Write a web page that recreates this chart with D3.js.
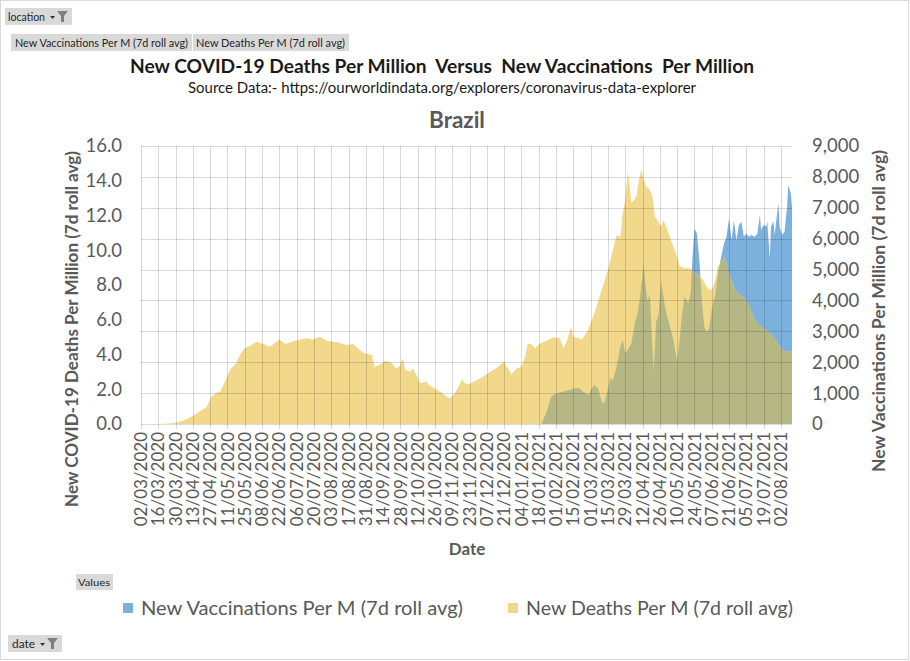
<!DOCTYPE html>
<html><head><meta charset="utf-8">
<script src="https://cdn.jsdelivr.net/npm/d3@7"></script>
<style>
html,body{margin:0;padding:0;background:#fff;}
svg{display:block;font-family:Lato,"Liberation Sans",sans-serif;}
text{white-space:pre;}
</style></head><body>
<svg id="chart" width="910" height="661"></svg>
<script>
// ---------------- DATA ----------------
const deathDates = ["2020-03-02","2020-03-17","2020-03-28","2020-04-05","2020-04-12","2020-04-19","2020-04-24","2020-04-28","2020-05-01","2020-05-05","2020-05-09","2020-05-13","2020-05-18","2020-05-21","2020-05-25","2020-05-29","2020-06-04","2020-06-08","2020-06-14","2020-06-18","2020-06-22","2020-06-27","2020-07-02","2020-07-07","2020-07-14","2020-07-19","2020-07-25","2020-07-30","2020-08-05","2020-08-10","2020-08-15","2020-08-21","2020-08-26","2020-08-30","2020-09-05","2020-09-07","2020-09-11","2020-09-16","2020-09-21","2020-09-24","2020-09-27","2020-09-30","2020-10-02","2020-10-06","2020-10-08","2020-10-11","2020-10-14","2020-10-19","2020-10-22","2020-10-26","2020-10-30","2020-11-03","2020-11-06","2020-11-08","2020-11-11","2020-11-14","2020-11-17","2020-11-19","2020-11-23","2020-11-29","2020-12-04","2020-12-08","2020-12-12","2020-12-16","2020-12-21","2020-12-24","2020-12-27","2020-12-31","2021-01-04","2021-01-07","2021-01-09","2021-01-12","2021-01-15","2021-01-19","2021-01-24","2021-01-30","2021-02-04","2021-02-07","2021-02-10","2021-02-13","2021-02-15","2021-02-20","2021-02-22","2021-02-27","2021-03-04","2021-03-10","2021-03-15","2021-03-19","2021-03-22","2021-03-25","2021-03-27","2021-03-29","2021-03-31","2021-04-01","2021-04-03","2021-04-05","2021-04-07","2021-04-09","2021-04-11","2021-04-13","2021-04-15","2021-04-18","2021-04-20","2021-04-22","2021-04-24","2021-04-27","2021-04-29","2021-05-01","2021-05-04","2021-05-07","2021-05-10","2021-05-12","2021-05-16","2021-05-20","2021-05-23","2021-05-27","2021-05-31","2021-06-04","2021-06-07","2021-06-10","2021-06-12","2021-06-15","2021-06-18","2021-06-20","2021-06-23","2021-06-26","2021-06-30","2021-07-04","2021-07-08","2021-07-12","2021-07-17","2021-07-23","2021-07-28","2021-08-03","2021-08-08","2021-08-11"];
const deathValues = [0,0,0.05,0.19,0.42,0.75,0.96,1.57,1.77,1.86,2.44,3.11,3.49,3.97,4.36,4.49,4.74,4.64,4.45,4.64,4.87,4.6,4.74,4.83,4.93,4.87,5.02,4.79,4.74,4.68,4.55,4.6,4.26,4.07,3.97,3.3,3.4,3.64,3.53,3.2,3.3,3.78,3.11,3.01,3.2,2.82,2.34,2.44,2.19,2.05,1.86,1.67,1.48,1.54,1.77,2.15,2.57,2.34,2.3,2.53,2.72,2.92,3.11,3.3,3.59,3.2,2.88,3.2,3.3,3.87,4.64,4.6,4.36,4.64,4.79,4.99,4.93,4.36,4.83,5.56,5.02,4.93,4.87,5.41,6.37,7.71,8.86,10.01,10.88,10.78,12.13,12.89,14.52,14.04,12.7,12.89,13.08,14.04,14.62,14.04,13.66,13.47,13.08,11.93,11.74,11.36,11.74,11.36,10.78,10.2,9.63,9.09,8.96,8.96,8.77,8.58,8.29,7.75,7.71,8.29,9.05,9.34,9.63,8.86,8.29,7.71,7.42,7.23,6.66,5.99,5.6,5.31,4.93,4.26,4.16,4.16];

const vaccDates = ["2021-01-20","2021-01-24","2021-01-28","2021-02-01","2021-02-07","2021-02-12","2021-02-16","2021-02-20","2021-02-22","2021-02-27","2021-03-02","2021-03-04","2021-03-07","2021-03-10","2021-03-12","2021-03-14","2021-03-17","2021-03-19","2021-03-22","2021-03-25","2021-03-27","2021-03-29","2021-03-31","2021-04-03","2021-04-06","2021-04-08","2021-04-10","2021-04-13","2021-04-14","2021-04-16","2021-04-18","2021-04-19","2021-04-21","2021-04-22","2021-04-23","2021-04-25","2021-04-27","2021-04-30","2021-05-02","2021-05-04","2021-05-07","2021-05-10","2021-05-12","2021-05-14","2021-05-16","2021-05-19","2021-05-21","2021-05-22","2021-05-24","2021-05-26","2021-05-28","2021-05-30","2021-06-01","2021-06-03","2021-06-05","2021-06-07","2021-06-10","2021-06-12","2021-06-15","2021-06-17","2021-06-19","2021-06-21","2021-06-23","2021-06-25","2021-06-27","2021-06-29","2021-07-01","2021-07-03","2021-07-05","2021-07-07","2021-07-09","2021-07-12","2021-07-14","2021-07-16","2021-07-17","2021-07-19","2021-07-21","2021-07-22","2021-07-24","2021-07-25","2021-07-27","2021-07-28","2021-07-29","2021-07-31","2021-08-01","2021-08-03","2021-08-05","2021-08-07","2021-08-08","2021-08-10","2021-08-11"];
const vaccValues = [0,350,880,990,1050,1100,1160,1160,1080,940,1160,1260,1160,720,670,990,1480,1420,1850,2500,2720,2290,2400,2610,3310,3580,4120,5200,4660,4010,4180,3260,1750,2400,3310,3530,4660,3850,3470,3200,2720,2020,2720,3580,4120,3910,4230,5090,6330,6170,5310,4010,3150,2990,3100,3690,4230,4880,5470,5850,6060,6660,5960,6600,5960,6440,6550,6060,6170,6060,6120,6060,6170,6770,6280,6440,6390,6550,5360,6390,6550,6120,6500,7150,6390,6120,6230,7040,7740,7470,7040];

const xTickLabels = ["02/03/2020","16/03/2020","30/03/2020","13/04/2020","27/04/2020","11/05/2020","25/05/2020","08/06/2020","22/06/2020","06/07/2020","20/07/2020","03/08/2020","17/08/2020","31/08/2020","14/09/2020","28/09/2020","12/10/2020","26/10/2020","09/11/2020","23/11/2020","07/12/2020","21/12/2020","04/01/2021","18/01/2021","01/02/2021","15/02/2021","01/03/2021","15/03/2021","29/03/2021","12/04/2021","26/04/2021","10/05/2021","24/05/2021","07/06/2021","21/06/2021","05/07/2021","19/07/2021","02/08/2021"];
const leftTicks = [0,2,4,6,8,10,12,14,16];
const rightTicks = [0,1000,2000,3000,4000,5000,6000,7000,8000,9000];

const seriesNames = ["New Vaccinations Per M (7d roll avg)","New Deaths Per M (7d roll avg)"];
const titleText = "New COVID-19 Deaths Per Million  Versus  New Vaccinations  Per Million";
const subtitleText = "Source Data:- https://ourworldindata.org/explorers/coronavirus-data-explorer";
const countryText = "Brazil";
const leftAxisTitle = "New COVID-19 Deaths Per Million (7d roll avg)";
const rightAxisTitle = "New Vaccinations Per Million (7d roll avg)";
const xAxisTitle = "Date";

// ---------------- STYLE ----------------
const C = {
  yellow:"#f2d88b", blue:"#7cb1de", olive:"#b5b884",
  grid:"rgba(0,0,0,0.15)", axisText:"#595959", title:"#1a1a1a",
  btn:"#d9d9d9", btnText:"#262626"
};

const svg = d3.select("#chart");
const parse = d3.timeParse("%Y-%m-%d");
const parseTick = d3.timeParse("%d/%m/%Y");
const P = {left:141, right:792, top:146, bottom:424};

const x = d3.scaleTime().domain([parse("2020-03-02"), parse("2021-08-11")]).range([P.left, P.right]);
const yL = d3.scaleLinear().domain([0,16]).range([P.bottom, P.top]);
const yR = d3.scaleLinear().domain([0,9000]).range([P.bottom, P.top]);

// outer frame
svg.append("rect").attr("x",0.5).attr("y",0.5).attr("width",908).attr("height",659)
  .attr("fill","#fff").attr("stroke","#d9d9d9");

// --- buttons ---
function funnel(g, fx, fy){
  g.append("path").attr("fill","#333").attr("d",`M${fx-7},${fy+5} l5,0 l-2.5,3 z`);
  g.append("path").attr("fill","#7f7f7f").attr("d",`M${fx},${fy} l11,0 l-4,5 l0,6 l-3,0 l0,-6 z`);
}
function btnText(g, tx, ty, size, len, str, anchor){
  g.append("text").attr("x",tx).attr("y",ty).attr("font-size",size).attr("fill",C.btnText)
    .attr("text-anchor",anchor||"start")
    .attr("textLength",len).attr("lengthAdjust","spacingAndGlyphs").text(str);
}
const b1 = svg.append("g");
b1.append("rect").attr("x",5).attr("y",8).attr("width",67).attr("height",17).attr("fill",C.btn);
btnText(b1, 8, 21, 12, 37, "location");
funnel(b1, 57, 11);

const b2 = svg.append("g");
b2.append("rect").attr("x",11).attr("y",34).attr("width",181).attr("height",17).attr("fill",C.btn);
b2.append("rect").attr("x",193).attr("y",34).attr("width",156).attr("height",17).attr("fill",C.btn);
btnText(b2, 15, 47, 12, 173, seriesNames[0]);
btnText(b2, 196, 47, 12, 149, seriesNames[1]);

const b3 = svg.append("g");
b3.append("rect").attr("x",76).attr("y",574).attr("width",37).attr("height",16).attr("fill",C.btn);
btnText(b3, 78, 586, 10, 32, "Values");

const b4 = svg.append("g");
b4.append("rect").attr("x",8).attr("y",635).attr("width",54).attr("height",17).attr("fill",C.btn);
btnText(b4, 12, 648, 11.5, 23, "date");
funnel(b4, 47, 638);

// --- titles ---
svg.append("text").attr("x",442).attr("y",73).attr("text-anchor","middle")
  .attr("font-size",18.5).attr("font-weight","bold").attr("fill",C.title)
  .attr("textLength",624).attr("lengthAdjust","spacingAndGlyphs").text(titleText);
svg.append("text").attr("x",442).attr("y",93).attr("text-anchor","middle")
  .attr("font-size",14.5).attr("fill",C.title)
  .attr("textLength",508).attr("lengthAdjust","spacingAndGlyphs").text(subtitleText);
svg.append("text").attr("x",457).attr("y",128).attr("text-anchor","middle")
  .attr("font-size",22.5).attr("font-weight","bold").attr("fill",C.axisText).text(countryText);

// --- areas ---
const deathData = deathDates.map((d,i)=>({date:parse(d), v:deathValues[i]}));
const vaccData = vaccDates.map((d,i)=>({date:parse(d), v:vaccValues[i]}));
const areaD = d3.area().x(d=>x(d.date)).y0(yL(0)).y1(d=>yL(d.v));
const areaV = d3.area().x(d=>x(d.date)).y0(yR(0)).y1(d=>yR(d.v));

svg.append("defs").append("clipPath").attr("id","vclip")
  .append("path").attr("d", areaV(vaccData));

svg.append("path").attr("d", areaV(vaccData)).attr("fill", C.blue);
svg.append("path").attr("d", areaD(deathData)).attr("fill", C.yellow);
svg.append("path").attr("d", areaD(deathData)).attr("fill", C.olive).attr("clip-path","url(#vclip)");

// --- gridlines (on top, translucent) ---
const grid = svg.append("g").attr("stroke", C.grid).attr("stroke-width",1).attr("shape-rendering","crispEdges");
rightTicks.forEach(t=>{
  grid.append("line").attr("x1",P.left).attr("x2",P.right).attr("y1",Math.round(yR(t))+0.5).attr("y2",Math.round(yR(t))+0.5);
});
const tickDates = xTickLabels.map(parseTick);
tickDates.forEach(d=>{
  const xx = Math.round(x(d))+0.5;
  grid.append("line").attr("x1",xx).attr("x2",xx).attr("y1",P.top).attr("y2",P.bottom+5);
});

// --- axes labels ---
const axL = svg.append("g").attr("font-size",18.5).attr("fill",C.axisText);
leftTicks.forEach(t=>{
  axL.append("text").attr("x",122).attr("y",yL(t)).attr("dy","0.35em").attr("text-anchor","end").text(d3.format(".1f")(t));
});
const axR = svg.append("g").attr("font-size",18.5).attr("fill",C.axisText);
rightTicks.forEach(t=>{
  axR.append("text").attr("x",812).attr("y",yR(t)).attr("dy","0.35em").attr("text-anchor","start").text(d3.format(",")(t));
});
const axX = svg.append("g").attr("font-size",17).attr("fill",C.axisText);
tickDates.forEach((d,i)=>{
  axX.append("text").attr("transform",`translate(${x(d)},432) rotate(-90)`)
    .attr("dy","0.36em").attr("text-anchor","end").text(xTickLabels[i]);
});

svg.append("text").attr("transform","translate(72,329) rotate(-90)").attr("text-anchor","middle")
  .attr("dy","0.35em").attr("font-size",16.5).attr("font-weight","bold").attr("fill",C.axisText)
  .attr("textLength",356).attr("lengthAdjust","spacingAndGlyphs").text(leftAxisTitle);
svg.append("text").attr("transform","translate(879,311) rotate(-90)").attr("text-anchor","middle")
  .attr("dy","0.35em").attr("font-size",16.5).attr("font-weight","bold").attr("fill",C.axisText)
  .attr("textLength",322).attr("lengthAdjust","spacingAndGlyphs").text(rightAxisTitle);
svg.append("text").attr("x",467).attr("y",549).attr("dy","0.35em").attr("text-anchor","middle")
  .attr("font-size",17).attr("font-weight","bold").attr("fill",C.axisText).text(xAxisTitle);

// --- legend ---
const leg = svg.append("g").attr("font-size",19).attr("fill",C.axisText);
const legItems = [{x:123, c:C.blue, name:seriesNames[0], len:322},{x:508, c:C.yellow, name:seriesNames[1], len:267}];
legItems.forEach(it=>{
  leg.append("rect").attr("x",it.x).attr("y",603).attr("width",10).attr("height",10).attr("fill",it.c);
  leg.append("text").attr("x",it.x+18).attr("y",608).attr("dy","0.35em")
    .attr("textLength",it.len).attr("lengthAdjust","spacingAndGlyphs").text(it.name);
});
</script>
</body></html>
